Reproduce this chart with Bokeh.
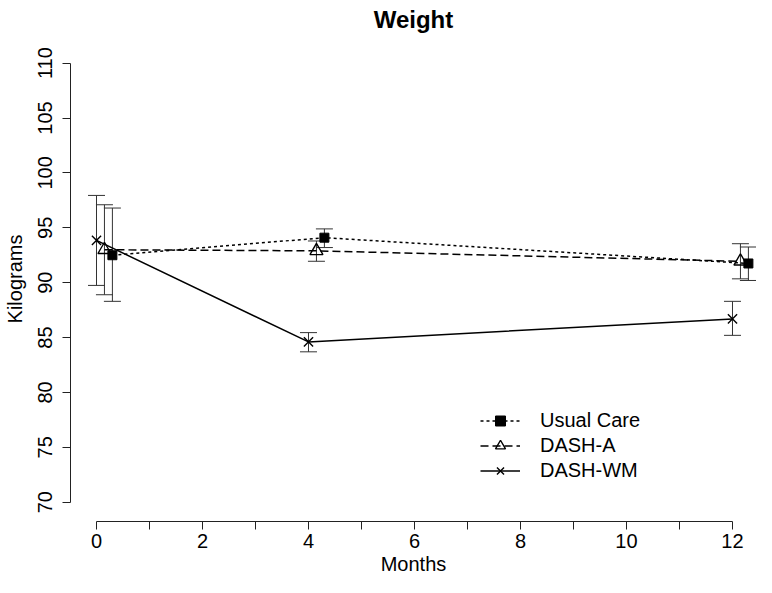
from bokeh.plotting import figure
from bokeh.models import (ColumnDataSource, Range1d, FixedTicker, Whisker, TeeHead,
                          Legend, LegendItem)
from bokeh.embed import file_html
from bokeh.resources import INLINE

# ---- data ----
uc_months = [0.3, 4.3, 12.3]
uc_mean = [92.5, 94.1, 91.75]
uc_lower = [88.3, 93.2, 90.2]
uc_upper = [96.8, 94.9, 93.25]

a_months = [0.15, 4.15, 12.15]
a_mean = [93.0, 92.9, 91.95]
a_lower = [88.9, 91.95, 90.35]
a_upper = [97.1, 93.8, 93.55]

wm_months = [0.0, 4.0, 12.0]
wm_mean = [93.85, 84.6, 86.7]
wm_lower = [89.75, 83.7, 85.2]
wm_upper = [97.95, 85.45, 88.3]

x_ticks = [0, 2, 4, 6, 8, 10, 12]
x_minor = [1, 3, 5, 7, 9, 11]
y_ticks = [70, 75, 80, 85, 90, 95, 100, 105, 110]

FONT = "Liberation Sans"

p = figure(width=756, height=577, output_backend="svg", toolbar_location=None,
           x_range=Range1d(-0.4906, 12.453), y_range=Range1d(68.24, 112.43),
           min_border_left=70, min_border_right=0, min_border_top=36,
           min_border_bottom=56)
p.title.text = "Weight"
p.title.align = "center"
p.title.text_font = FONT
p.title.text_font_size = "24px"
p.title.text_font_style = "bold"
p.title.text_color = "black"
p.title.standoff = 7

p.xgrid.visible = False
p.ygrid.visible = False
p.outline_line_color = None

# axes
xa = p.xaxis[0]
xa.ticker = FixedTicker(ticks=x_ticks, minor_ticks=x_minor)
xa.bounds = (0, 12)
ya = p.yaxis[0]
ya.ticker = FixedTicker(ticks=y_ticks, minor_ticks=[])
ya.bounds = (70, 110)
ya.major_label_orientation = "vertical"
for ax in (xa, ya):
    ax.axis_line_color = "#222222"
    ax.major_tick_line_color = "#222222"
    ax.minor_tick_line_color = "#222222"
    ax.major_tick_out = 8
    ax.major_tick_in = 0
    ax.minor_tick_out = 8
    ax.minor_tick_in = 0
    ax.major_label_text_font = FONT
    ax.major_label_text_font_size = "20px"
    ax.major_label_text_color = "black"
    ax.axis_label_text_font = FONT
    ax.axis_label_text_font_size = "20px"
    ax.axis_label_text_font_style = "normal"
    ax.axis_label_text_color = "black"
xa.axis_label = "Months"
ya.axis_label = "Kilograms"
xa.major_label_standoff = 4
ya.major_label_standoff = 10
xa.axis_label_standoff = 2
ya.axis_label_standoff = 10

series = [
    ("Usual Care", uc_months, uc_mean, uc_lower, uc_upper, "3 3", "square"),
    ("DASH-A", a_months, a_mean, a_lower, a_upper, "8 4", "triangle"),
    ("DASH-WM", wm_months, wm_mean, wm_lower, wm_upper, "solid", "x"),
]

items = []
for name, xs, ms, lo, up, dash, marker in series:
    src = ColumnDataSource(dict(x=xs, y=ms, lower=lo, upper=up))
    w = Whisker(source=src, base="x", lower="lower", upper="upper",
                dimension="height", line_color="#333333", line_width=1,
                upper_head=TeeHead(size=17, line_color="#333333", line_width=1),
                lower_head=TeeHead(size=17, line_color="#333333", line_width=1))
    p.add_layout(w)
    lr = p.line("x", "y", source=src, line_color="black", line_width=1.5,
                line_dash=dash)
    if marker == "square":
        sr = p.scatter("x", "y", source=src, marker="square", size=9,
                       fill_color="black", line_color="black")
    elif marker == "triangle":
        sr = p.scatter("x", "y", source=src, marker="triangle", size=13,
                       fill_color="white", fill_alpha=0.0, line_color="black",
                       line_width=1.4)
    else:
        sr = p.scatter("x", "y", source=src, marker="x", size=13,
                       line_color="black", line_width=1.4)
    items.append(LegendItem(label=name, renderers=[lr, sr]))

legend = Legend(items=items, location=(410, 38), glyph_width=40, glyph_height=25,
                label_height=20, label_standoff=20, spacing=0, padding=0, margin=0,
                border_line_color=None, background_fill_alpha=0.0,
                label_text_font=FONT, label_text_font_size="20px",
                label_text_color="black")
p.add_layout(legend, "center")

open("out.html", "w").write(file_html(p, INLINE))
